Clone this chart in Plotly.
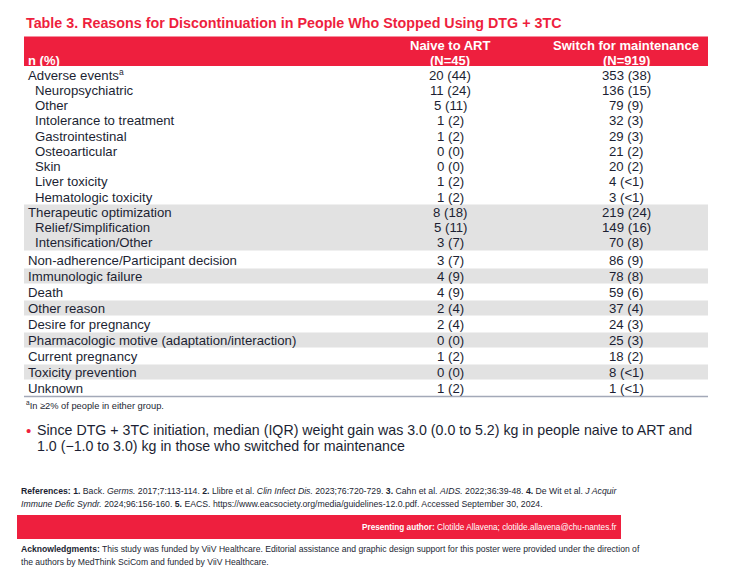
import plotly.graph_objects as go

# ---------------- data ----------------
title_text = "Table 3. Reasons for Discontinuation in People Who Stopped Using DTG + 3TC"
col_headers = ["Naive to ART", "Switch for maintenance"]
col_n = ["(N=45)", "(N=919)"]
row_labels = [
    "Adverse events", "Neuropsychiatric", "Other", "Intolerance to treatment",
    "Gastrointestinal", "Osteoarticular", "Skin", "Liver toxicity", "Hematologic toxicity",
    "Therapeutic optimization", "Relief/Simplification", "Intensification/Other",
    "Non-adherence/Participant decision", "Immunologic failure", "Death", "Other reason",
    "Desire for pregnancy", "Pharmacologic motive (adaptation/interaction)",
    "Current pregnancy", "Toxicity prevention", "Unknown",
]
naive_values = ["20 (44)", "11 (24)", "5 (11)", "1 (2)", "1 (2)", "0 (0)", "0 (0)", "1 (2)", "1 (2)",
                "8 (18)", "5 (11)", "3 (7)", "3 (7)", "4 (9)", "4 (9)", "2 (4)", "2 (4)", "0 (0)",
                "1 (2)", "0 (0)", "1 (2)"]
switch_values = ["353 (38)", "136 (15)", "79 (9)", "32 (3)", "29 (3)", "21 (2)", "20 (2)", "4 (<1)",
                 "3 (<1)", "219 (24)", "149 (16)", "70 (8)", "86 (9)", "78 (8)", "59 (6)", "37 (4)",
                 "24 (3)", "25 (3)", "18 (2)", "8 (<1)", "1 (<1)"]
sub_rows = ["Neuropsychiatric", "Other", "Intolerance to treatment", "Gastrointestinal",
            "Osteoarticular", "Skin", "Liver toxicity", "Hematologic toxicity",
            "Relief/Simplification", "Intensification/Other"]
footnoted_row = "Adverse events"
footnote = "<sup>a</sup>In ≥2% of people in either group."
bullet_lines = ["Since DTG + 3TC initiation, median (IQR) weight gain was 3.0 (0.0 to 5.2) kg in people naive to ART and",
                "1.0 (−1.0 to 3.0) kg in those who switched for maintenance"]
ref_lines = ["<b>References: 1.</b> Back. <i>Germs.</i> 2017;7:113-114. <b>2.</b> Llibre et al. <i>Clin Infect Dis.</i> 2023;76:720-729. <b>3.</b> Cahn et al. <i>AIDS.</i> 2022;36:39-48. <b>4.</b> De Wit et al. <i>J Acquir</i>",
             "<i>Immune Defic Syndr.</i> 2024;96:156-160. <b>5.</b> EACS. https://www.eacsociety.org/media/guidelines-12.0.pdf. Accessed September 30, 2024."]
presenting = "<b>Presenting author:</b> Clotilde Allavena; clotilde.allavena@chu-nantes.fr"
ack_lines = ["<b>Acknowledgments:</b> This study was funded by ViiV Healthcare. Editorial assistance and graphic design support for this poster were provided under the direction of",
             "the authors by MedThink SciCom and funded by ViiV Healthcare."]

# ---------------- style ----------------
RED = "#ee1f3e"
TXT = "#1c1f33"
GREY = "#e2e2e2"
FONT = "Liberation Sans, Arial, sans-serif"
shaded = ["Therapeutic optimization", "Relief/Simplification", "Intensification/Other",
          "Immunologic failure", "Other reason", "Pharmacologic motive (adaptation/interaction)",
          "Toxicity prevention"]

W, H = 734, 573
X0, X1 = 24, 708
COL_X = [450, 626]

def row_y(i):
    if i < 12:
        return 75 + i * 15.25
    return 260 + (i - 12) * 16

fig = go.Figure()
fig.add_trace(go.Scatter(x=[0, W], y=[0, H], mode="markers", marker=dict(opacity=0), hoverinfo="skip"))

shapes = []
ann = []

def text(x, y, s, size, color=TXT, anchor="left", bold=False, yanchor="middle"):
    if bold:
        s = "<b>" + s + "</b>"
    ann.append(dict(x=x, y=y, xref="x", yref="y", text=s, showarrow=False,
                    xanchor=anchor, yanchor=yanchor,
                    font=dict(size=size, color=color, family=FONT)))

# title
text(24, 23, title_text, 14.3, color=RED, bold=True)

# header band
shapes.append(dict(type="rect", x0=X0, x1=X1, y0=36.5, y1=66, xref="x", yref="y",
                   fillcolor=RED, line=dict(width=0), layer="below"))
text(26, 60, "n (%)", 13, color="white", bold=True)
for cx, h, n in zip(COL_X, col_headers, col_n):
    text(cx, 45, h, 13, color="white", anchor="center", bold=True)
    text(cx, 60, n, 13, color="white", anchor="center", bold=True)

# rows
for i, lab in enumerate(row_labels):
    y = row_y(i)
    if lab in shaded:
        h = 7.7 if i < 12 else 7.5
        shapes.append(dict(type="rect", x0=X0, x1=X1, y0=y - h, y1=y + h, xref="x", yref="y",
                           fillcolor=GREY, line=dict(width=0), layer="below"))
    indent = 33 if lab in sub_rows else 26
    text(indent, y, lab, 13.2)
    if lab == footnoted_row:
        text(indent + 91, y - 3, "a", 8.5)
    text(COL_X[0], y, naive_values[i], 13.2, anchor="center")
    text(COL_X[1], y, switch_values[i], 13.2, anchor="center")

# bottom rule
shapes.append(dict(type="line", x0=X0, x1=X1, y0=396.5, y1=396.5, xref="x", yref="y",
                   line=dict(color="#a3a9b8", width=1.5)))

text(24, 405, footnote, 9.3)

# bullet
text(24, 430, "•", 15, color=RED)
text(35, 430, bullet_lines[0], 14.2)
text(35, 446, bullet_lines[1], 14.2)

# references
text(19, 491, ref_lines[0], 8.7)
text(19, 504, ref_lines[1], 8.7)

# footer band
shapes.append(dict(type="rect", x0=17, x1=621, y0=515, y1=539, xref="x", yref="y",
                   fillcolor=RED, line=dict(width=0), layer="below"))
text(619, 527, presenting, 8.2, color="white", anchor="right")

text(19, 549, ack_lines[0], 8.6)
text(19, 562, ack_lines[1], 8.6)

fig.update_layout(
    width=W, height=H, margin=dict(l=0, r=0, t=0, b=0),
    paper_bgcolor="white", plot_bgcolor="white", showlegend=False,
    xaxis=dict(range=[0, W], visible=False, fixedrange=True),
    yaxis=dict(range=[H, 0], visible=False, fixedrange=True),
    shapes=shapes, annotations=ann,
)
fig.write_html("out.html", config={"displayModeBar": False},
               post_script="document.body.style.margin='0';document.body.style.overflow='hidden';")
